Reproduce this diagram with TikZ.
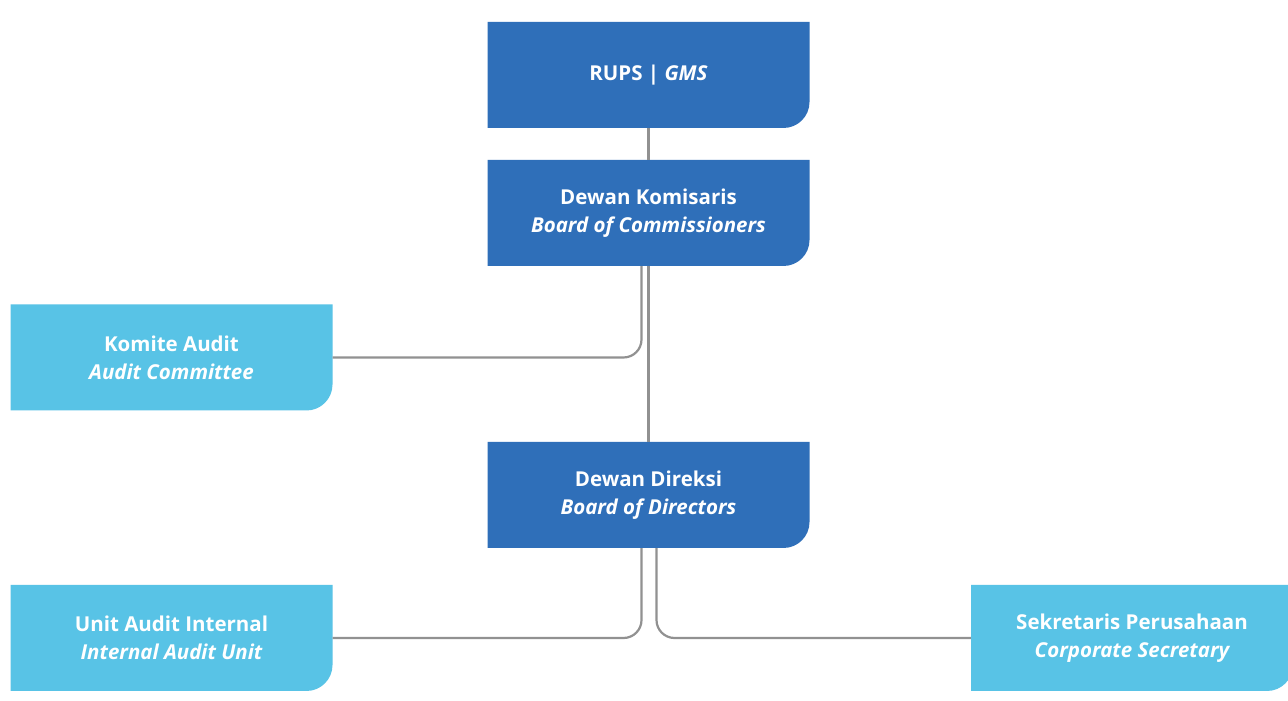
\documentclass[tikz,border=0pt]{standalone}
\usepackage{fontspec}
\setmainfont{Open Sans}
\usetikzlibrary{calc, positioning}
\definecolor{darkblue}{RGB}{47,111,185}
\definecolor{lightblue}{RGB}{88,195,230}
\definecolor{linegray}{RGB}{145,145,145}

\begin{document}
\begin{tikzpicture}[x=1pt, y=1pt,
  unitbox/.style={minimum width=322pt, minimum height=106pt, inner sep=0pt,
    align=center, text=white, font=\bfseries\fontsize{20.5}{28}\selectfont,
    path picture={\fill[#1] (path picture bounding box.north west)
      -- (path picture bounding box.north east)
      -- ([yshift=26pt]path picture bounding box.south east)
      arc[start angle=0, end angle=-90, radius=26pt]
      -- (path picture bounding box.south west) -- cycle;}},
  link/.style={draw=linegray, line width=2.2pt, rounded corners=18pt}]
  \clip (0,0) rectangle (1288,701);
  \fill[white] (0,0) rectangle (1288,701);

  % Main chain
  \node[unitbox=darkblue] (rups) at (648.5,626) {RUPS | \itshape GMS};
  \node[unitbox=darkblue] (boc) at (648.5,488) {Dewan Komisaris\\\itshape Board of Commissioners};
  \node[unitbox=darkblue] (bod) at (648.5,206) {Dewan Direksi\\\itshape Board of Directors};

  % Supporting units
  \node[unitbox=lightblue] (komite) at (171.5,343.5) {Komite Audit\\\itshape Audit Committee};
  \node[unitbox=lightblue] (unit) at (171.5,63) {Unit Audit Internal\\\itshape Internal Audit Unit};
  \node[unitbox=lightblue] (sekretaris) at (1132,63) {Sekretaris Perusahaan\\\itshape Corporate Secretary};

  % Connectors
  \draw[link] (rups) -- (boc);
  \draw[link] (boc) -- (bod);
  \draw[link] ([xshift=-7pt]boc.south) |- (komite.east);
  \draw[link] ([xshift=-7pt]bod.south) |- (unit.east);
  \draw[link] ([xshift=8pt]bod.south) |- (sekretaris.west);
\end{tikzpicture}
\end{document}
